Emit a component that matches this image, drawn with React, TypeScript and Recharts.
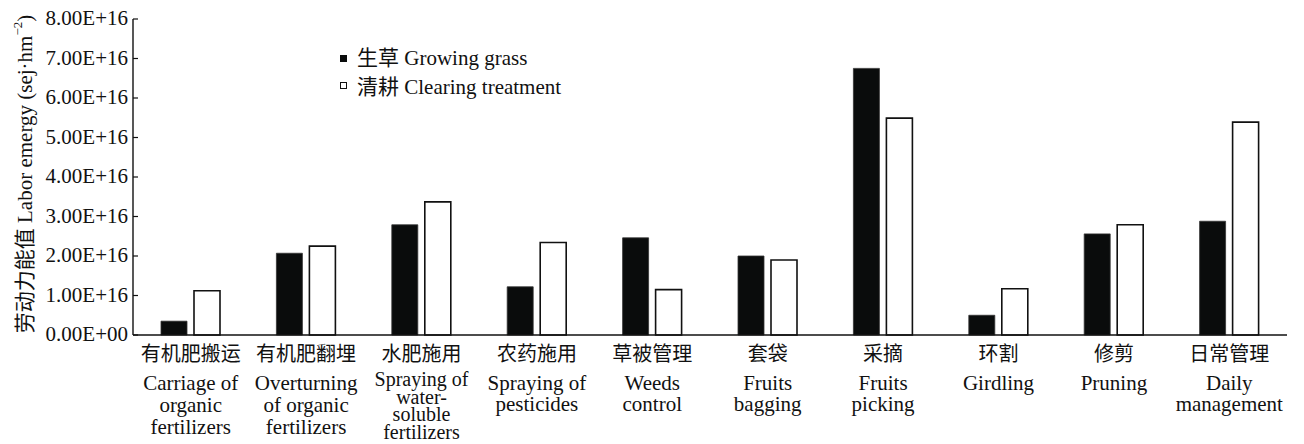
import React from 'react';
import { BarChart, Bar, XAxis, YAxis, Legend } from 'recharts';

const cnLabels = ['有机肥搬运', '有机肥翻埋', '水肥施用', '农药施用', '草被管理', '套袋', '采摘', '环割', '修剪', '日常管理'];
const enLabels = [
  'Carriage of\norganic\nfertilizers',
  'Overturning\nof organic\nfertilizers',
  'Spraying of\nwater-\nsoluble\nfertilizers',
  'Spraying of\npesticides',
  'Weeds\ncontrol',
  'Fruits\nbagging',
  'Fruits\npicking',
  'Girdling',
  'Pruning',
  'Daily\nmanagement',
];
const growingGrass = [3.5e15, 2.07e16, 2.79e16, 1.22e16, 2.46e16, 2.0e16, 6.75e16, 5.0e15, 2.56e16, 2.88e16];
const clearingTreatment = [1.12e16, 2.25e16, 3.37e16, 2.34e16, 1.15e16, 1.9e16, 5.49e16, 1.17e16, 2.79e16, 5.39e16];
const yTicks = [0, 1e16, 2e16, 3e16, 4e16, 5e16, 6e16, 7e16, 8e16];
const seriesNames = { grass: '生草 Growing grass', clearing: '清耕 Clearing treatment' };

const data = cnLabels.map((cn, i) => ({
  cn,
  grass: growingGrass[i],
  clearing: clearingTreatment[i],
}));

const FONT = "'Liberation Serif', 'Times New Roman', 'Noto Sans CJK SC', serif";
const INK = '#111';

const fmt = (v: number) => {
  if (v === 0) return '0.00E+00';
  const [m, e] = v.toExponential(2).split('e');
  const n = parseInt(e, 10);
  return `${m}E${n >= 0 ? '+' : '-'}${String(Math.abs(n)).padStart(2, '0')}`;
};

const YTick = (props: any) => {
  const { x, y, payload } = props;
  return (
    <g>
      <line x1={x + 5} x2={x + 10} y1={y} y2={y} stroke={INK} strokeWidth={1.2} />
      <text x={x} y={y} dy="0.3em" textAnchor="end" fontSize={21} fontFamily={FONT} fill={INK}>
        {fmt(payload.value)}
      </text>
    </g>
  );
};

const XTick = (props: any) => {
  const { x, y, index } = props;
  const idx = typeof index === 'number' ? index : cnLabels.indexOf(props.payload.value);
  const lines = enLabels[idx].split('\n');
  const n = lines.length;
  const first = n === 4 ? 51 : 55;
  const pitch = n === 4 ? 17.5 : n === 3 ? 22 : 21;
  const fs = n === 4 ? 20 : 21;
  return (
    <g>
      <text x={x} y={y + 19} dominantBaseline="central" textAnchor="middle" fontSize={20} fontFamily={FONT} fill={INK}>
        {cnLabels[idx]}
      </text>
      <text x={x} y={y + first} textAnchor="middle" fontSize={fs} fontFamily={FONT} fill={INK}>
        {lines.map((l, i) => (
          <tspan key={i} x={x} dy={i === 0 ? 0 : pitch}>
            {l}
          </tspan>
        ))}
      </text>
    </g>
  );
};

const YLabel = (props: any) => {
  const vb = props.viewBox || {};
  const cx = (vb.x ?? 33) - 8;
  const cy = 174;
  return (
    <text
      x={cx}
      y={cy}
      transform={`rotate(-90 ${cx} ${cy})`}
      textAnchor="middle"
      dominantBaseline="central"
      fontSize={21}
      fontFamily={FONT}
      fill={INK}
    >
      劳动力能值 Labor emergy (sej·hm
      <tspan fontSize={13} dy={-8}>−2</tspan>
      <tspan dy={8}>)</tspan>
    </text>
  );
};

const LegendContent = () => (
  <div style={{ fontFamily: FONT, fontSize: 21, color: INK, lineHeight: '29px' }}>
    <div style={{ display: 'flex', alignItems: 'center', whiteSpace: 'nowrap' }}>
      <span style={{ display: 'inline-block', width: 7, height: 7, background: '#0a0c0c', marginRight: 10 }} />
      <span>{seriesNames.grass}</span>
    </div>
    <div style={{ display: 'flex', alignItems: 'center', whiteSpace: 'nowrap' }}>
      <span style={{ display: 'inline-block', width: 5, height: 5, border: `1px solid ${INK}`, background: '#fff', marginRight: 10, marginTop: -4 }} />
      <span>{seriesNames.clearing}</span>
    </div>
  </div>
);

export default function App() {
  return (
    <div style={{ position: 'absolute', left: 0, top: 0, background: '#fff' }}>
      <BarChart
        width={1304}
        height={444}
        data={data}
        margin={{ top: 19, right: 17, bottom: 0, left: 33 }}
        barSize={26}
        barGap={7}
      >
        <XAxis
          dataKey="cn"
          interval={0}
          height={109}
          tickLine={false}
          tickSize={0}
          tickMargin={0}
          axisLine={{ stroke: INK, strokeWidth: 1.4 }}
          tick={<XTick />}
        />
        <YAxis
          width={100}
          domain={[0, 8e16]}
          ticks={yTicks}
          interval={0}
          tickLine={false}
          tickSize={0}
          tickMargin={5}
          axisLine={{ stroke: INK, strokeWidth: 1.4 }}
          tick={<YTick />}
          label={{ content: <YLabel /> }}
        />
        <Legend
          layout="vertical"
          align="center"
          verticalAlign="middle"
          content={<LegendContent />}
          wrapperStyle={{ left: 340, top: 44, width: 'auto', height: 'auto' }}
        />
        <Bar dataKey="grass" name={seriesNames.grass} fill="#0a0c0c" stroke="#333" strokeWidth={0.8} isAnimationActive={false} />
        <Bar dataKey="clearing" name={seriesNames.clearing} fill="#fff" stroke={INK} strokeWidth={1.6} isAnimationActive={false} />
      </BarChart>
    </div>
  );
}
